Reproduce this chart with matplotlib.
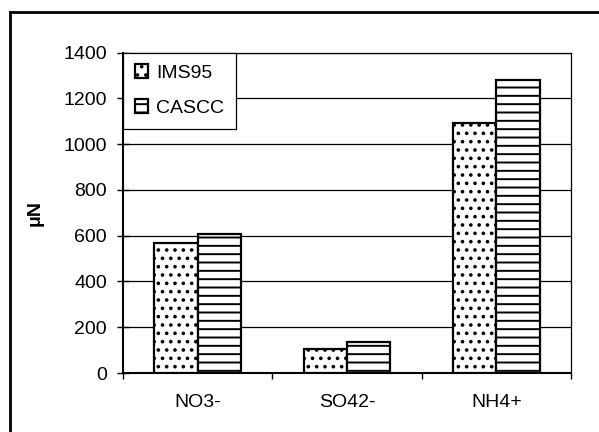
import matplotlib
matplotlib.use('Agg')
import matplotlib.pyplot as plt
import numpy as np
from matplotlib.lines import Line2D

plt.rcParams['font.family'] = ['Liberation Sans', 'DejaVu Sans']
plt.rcParams['hatch.linewidth'] = 1.4
plt.rcParams['hatch.color'] = 'black'

# deposition by ion, two models
ions = ['NO3-', 'SO42-', 'NH4+']
ims95 = [570, 103, 1093]
cascc = [605, 135, 1280]

fig = plt.figure(figsize=(5.99, 4.32), dpi=100)
ax = fig.add_axes([123 / 599, 59 / 432, 448 / 599, 320.5 / 432])

x = np.arange(len(ions))
w = 0.29
ax.bar(x - w / 2, ims95, w, color='white', edgecolor='black', linewidth=1.6,
       hatch='..', label='IMS95', zorder=3)
ax.bar(x + w / 2, cascc, w, color='white', edgecolor='black', linewidth=1.6,
       hatch='--', label='CASCC', zorder=3)

ax.set_xlim(-0.5, 2.5)
ax.set_ylim(0, 1400)
ax.set_yticks(np.arange(0, 1401, 200))
ax.yaxis.grid(True, color='black', linewidth=0.9, zorder=0)
ax.set_axisbelow(True)

# category labels sit between boundary ticks
ax.set_xticks(np.arange(-0.5, 3, 1))
ax.set_xticklabels([])
ax.set_xticks(x, minor=True)
ax.set_xticklabels(ions, minor=True, fontsize=14)
ax.tick_params(axis='x', which='major', direction='out', length=4, width=1)
ax.tick_params(axis='x', which='minor', length=0, pad=15)
ax.tick_params(axis='y', direction='inout', length=9, width=1, pad=7, labelsize=14)

for side in ['top', 'right']:
    ax.spines[side].set_linewidth(0.9)
for side in ['left', 'bottom']:
    ax.spines[side].set_linewidth(1.5)

ax.set_ylabel('μN', fontsize=14, fontweight='bold', labelpad=14)

leg = ax.legend(loc='upper left', borderaxespad=0, fontsize=14,
                handlelength=0.7, handleheight=0.7, handletextpad=0.4,
                labelspacing=0.9, borderpad=0.6, fancybox=False, framealpha=1)
leg.get_frame().set_edgecolor('black')
leg.get_frame().set_linewidth(0.9)

# outer chart frame
fig.add_artist(Line2D([10 / 599, 10 / 599], [0, 1 - 12 / 432], color='black',
                      linewidth=2, transform=fig.transFigure))
fig.add_artist(Line2D([10 / 599, 1], [1 - 12 / 432, 1 - 12 / 432], color='black',
                      linewidth=2, transform=fig.transFigure))

fig.savefig('out.png', dpi=100)
